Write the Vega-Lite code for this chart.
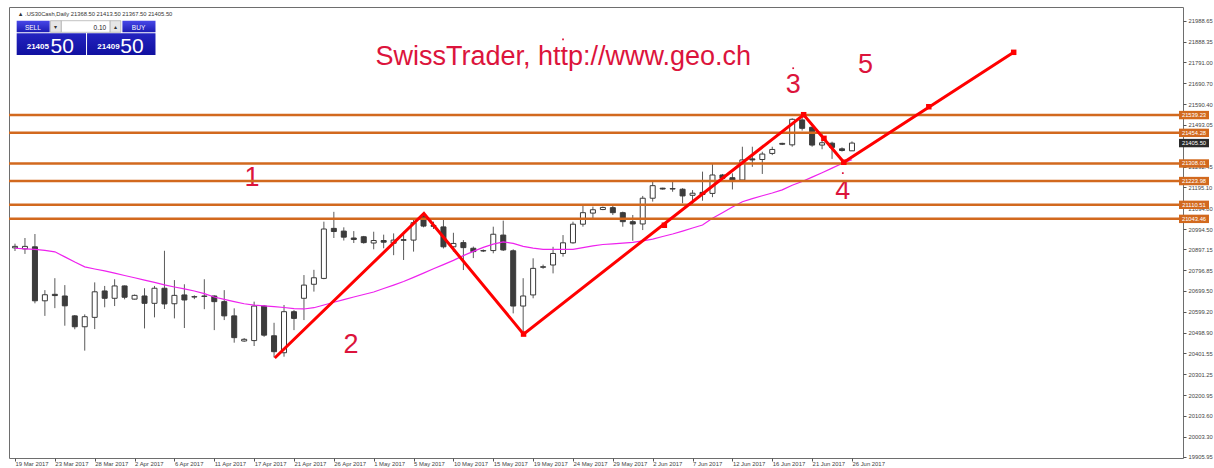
{
  "$schema": "https://vega.github.io/schema/vega-lite/v6.json",
  "width": 1174,
  "height": 451,
  "autosize": {"type": "none"},
  "padding": {"left": 9, "top": 7, "right": 31, "bottom": 10},
  "background": "white",
  "config": {
    "view": {"stroke": "#6e6e6e", "strokeWidth": 1},
    "font": "Liberation Sans",
    "text": {"font": "Liberation Sans"},
    "axis": {"labelOverlap": false, "labelFlush": false, "grid": false, "domain": false}
  },
  "datasets": {
    "candles": [
      {"d":"2017-03-19","i":0,"o":20905,"h":20925,"l":20890,"c":20912,"ma":20903},
      {"d":"2017-03-20","i":1,"o":20900,"h":20952,"l":20876,"c":20912,"ma":20900},
      {"d":"2017-03-21","i":2,"o":20910,"h":20971,"l":20640,"c":20652,"ma":20898},
      {"d":"2017-03-22","i":3,"o":20652,"h":20703,"l":20580,"c":20681,"ma":20893},
      {"d":"2017-03-23","i":4,"o":20683,"h":20760,"l":20617,"c":20677,"ma":20886},
      {"d":"2017-03-24","i":5,"o":20675,"h":20727,"l":20533,"c":20628,"ma":20862},
      {"d":"2017-03-26","i":6,"o":20580,"h":20584,"l":20516,"c":20528,"ma":20837},
      {"d":"2017-03-27","i":7,"o":20528,"h":20587,"l":20414,"c":20576,"ma":20814},
      {"d":"2017-03-28","i":8,"o":20573,"h":20740,"l":20517,"c":20695,"ma":20804},
      {"d":"2017-03-29","i":9,"o":20699,"h":20723,"l":20621,"c":20664,"ma":20795},
      {"d":"2017-03-30","i":10,"o":20664,"h":20755,"l":20627,"c":20723,"ma":20784},
      {"d":"2017-03-31","i":11,"o":20723,"h":20725,"l":20659,"c":20669,"ma":20773},
      {"d":"2017-04-02","i":12,"o":20660,"h":20682,"l":20658,"c":20678,"ma":20762},
      {"d":"2017-04-03","i":13,"o":20675,"h":20712,"l":20520,"c":20640,"ma":20751},
      {"d":"2017-04-04","i":14,"o":20640,"h":20723,"l":20573,"c":20712,"ma":20740},
      {"d":"2017-04-05","i":15,"o":20712,"h":20891,"l":20613,"c":20637,"ma":20728},
      {"d":"2017-04-06","i":16,"o":20638,"h":20751,"l":20568,"c":20678,"ma":20718},
      {"d":"2017-04-07","i":17,"o":20680,"h":20731,"l":20522,"c":20656,"ma":20709},
      {"d":"2017-04-09","i":18,"o":20670,"h":20678,"l":20660,"c":20672,"ma":20699},
      {"d":"2017-04-10","i":19,"o":20675,"h":20755,"l":20612,"c":20673,"ma":20686},
      {"d":"2017-04-11","i":20,"o":20675,"h":20678,"l":20512,"c":20648,"ma":20670},
      {"d":"2017-04-12","i":21,"o":20648,"h":20703,"l":20560,"c":20580,"ma":20659},
      {"d":"2017-04-13","i":22,"o":20580,"h":20616,"l":20452,"c":20476,"ma":20648},
      {"d":"2017-04-16","i":23,"o":20460,"h":20474,"l":20456,"c":20468,"ma":20638},
      {"d":"2017-04-17","i":24,"o":20462,"h":20648,"l":20436,"c":20627,"ma":20631},
      {"d":"2017-04-18","i":25,"o":20627,"h":20632,"l":20480,"c":20488,"ma":20628},
      {"d":"2017-04-19","i":26,"o":20485,"h":20547,"l":20382,"c":20409,"ma":20624},
      {"d":"2017-04-20","i":27,"o":20404,"h":20632,"l":20385,"c":20600,"ma":20620},
      {"d":"2017-04-21","i":28,"o":20600,"h":20608,"l":20512,"c":20568,"ma":20615},
      {"d":"2017-04-23","i":29,"o":20664,"h":20775,"l":20560,"c":20727,"ma":20613},
      {"d":"2017-04-24","i":30,"o":20731,"h":20800,"l":20696,"c":20762,"ma":20619},
      {"d":"2017-04-25","i":31,"o":20759,"h":21030,"l":20755,"c":20995,"ma":20632},
      {"d":"2017-04-26","i":32,"o":20998,"h":21077,"l":20952,"c":20983,"ma":20645},
      {"d":"2017-04-27","i":33,"o":20985,"h":21003,"l":20940,"c":20956,"ma":20658},
      {"d":"2017-04-28","i":34,"o":20952,"h":20985,"l":20928,"c":20945,"ma":20670},
      {"d":"2017-04-30","i":35,"o":20958,"h":20962,"l":20925,"c":20930,"ma":20682},
      {"d":"2017-05-01","i":36,"o":20928,"h":20982,"l":20898,"c":20940,"ma":20694},
      {"d":"2017-05-02","i":37,"o":20940,"h":20968,"l":20903,"c":20932,"ma":20711},
      {"d":"2017-05-03","i":38,"o":20927,"h":20974,"l":20870,"c":20942,"ma":20727},
      {"d":"2017-05-04","i":39,"o":20944,"h":20982,"l":20847,"c":20941,"ma":20744},
      {"d":"2017-05-05","i":40,"o":20942,"h":21046,"l":20887,"c":21025,"ma":20764},
      {"d":"2017-05-07","i":41,"o":21062,"h":21069,"l":21003,"c":21009,"ma":20784},
      {"d":"2017-05-08","i":42,"o":21012,"h":21030,"l":20995,"c":21008,"ma":20805},
      {"d":"2017-05-09","i":43,"o":21005,"h":21046,"l":20902,"c":20910,"ma":20825},
      {"d":"2017-05-10","i":44,"o":20910,"h":20977,"l":20887,"c":20926,"ma":20845},
      {"d":"2017-05-11","i":45,"o":20930,"h":20942,"l":20799,"c":20906,"ma":20868},
      {"d":"2017-05-12","i":46,"o":20903,"h":20911,"l":20856,"c":20887,"ma":20888},
      {"d":"2017-05-14","i":47,"o":20890,"h":20897,"l":20885,"c":20892,"ma":20907},
      {"d":"2017-05-15","i":48,"o":20892,"h":21006,"l":20879,"c":20970,"ma":20923},
      {"d":"2017-05-16","i":49,"o":20966,"h":21035,"l":20890,"c":20895,"ma":20933},
      {"d":"2017-05-17","i":50,"o":20891,"h":20898,"l":20592,"c":20627,"ma":20926},
      {"d":"2017-05-18","i":51,"o":20627,"h":20760,"l":20493,"c":20675,"ma":20912},
      {"d":"2017-05-19","i":52,"o":20680,"h":20855,"l":20664,"c":20807,"ma":20904},
      {"d":"2017-05-21","i":53,"o":20812,"h":20825,"l":20805,"c":20815,"ma":20898},
      {"d":"2017-05-22","i":54,"o":20823,"h":20910,"l":20783,"c":20878,"ma":20898},
      {"d":"2017-05-23","i":55,"o":20878,"h":20966,"l":20863,"c":20929,"ma":20898},
      {"d":"2017-05-24","i":56,"o":20929,"h":21030,"l":20925,"c":21018,"ma":20898},
      {"d":"2017-05-25","i":57,"o":21018,"h":21114,"l":21006,"c":21073,"ma":20906},
      {"d":"2017-05-26","i":58,"o":21071,"h":21102,"l":21038,"c":21087,"ma":20914},
      {"d":"2017-05-28","i":59,"o":21088,"h":21102,"l":21085,"c":21098,"ma":20921},
      {"d":"2017-05-29","i":60,"o":21097,"h":21105,"l":21062,"c":21073,"ma":20924},
      {"d":"2017-05-30","i":61,"o":21073,"h":21078,"l":21006,"c":21030,"ma":20928},
      {"d":"2017-05-31","i":62,"o":21030,"h":21062,"l":20939,"c":21019,"ma":20931},
      {"d":"2017-06-01","i":63,"o":21019,"h":21153,"l":20990,"c":21142,"ma":20938},
      {"d":"2017-06-02","i":64,"o":21142,"h":21229,"l":21126,"c":21202,"ma":20947},
      {"d":"2017-06-04","i":65,"o":21190,"h":21192,"l":21183,"c":21186,"ma":20959},
      {"d":"2017-06-05","i":66,"o":21188,"h":21221,"l":21173,"c":21186,"ma":20971},
      {"d":"2017-06-06","i":67,"o":21185,"h":21190,"l":21118,"c":21153,"ma":20985},
      {"d":"2017-06-07","i":68,"o":21156,"h":21181,"l":21114,"c":21166,"ma":21000},
      {"d":"2017-06-08","i":69,"o":21170,"h":21269,"l":21130,"c":21160,"ma":21014},
      {"d":"2017-06-09","i":70,"o":21165,"h":21305,"l":21147,"c":21253,"ma":21046},
      {"d":"2017-06-11","i":71,"o":21253,"h":21258,"l":21232,"c":21237,"ma":21073},
      {"d":"2017-06-12","i":72,"o":21240,"h":21261,"l":21184,"c":21229,"ma":21100},
      {"d":"2017-06-13","i":73,"o":21229,"h":21388,"l":21221,"c":21325,"ma":21125},
      {"d":"2017-06-14","i":74,"o":21330,"h":21388,"l":21292,"c":21325,"ma":21140},
      {"d":"2017-06-15","i":75,"o":21327,"h":21364,"l":21258,"c":21353,"ma":21154},
      {"d":"2017-06-16","i":76,"o":21356,"h":21388,"l":21348,"c":21375,"ma":21167},
      {"d":"2017-06-18","i":77,"o":21404,"h":21407,"l":21396,"c":21400,"ma":21182},
      {"d":"2017-06-19","i":78,"o":21397,"h":21524,"l":21388,"c":21519,"ma":21204},
      {"d":"2017-06-20","i":79,"o":21516,"h":21541,"l":21465,"c":21476,"ma":21222},
      {"d":"2017-06-21","i":80,"o":21481,"h":21484,"l":21388,"c":21396,"ma":21243},
      {"d":"2017-06-22","i":81,"o":21396,"h":21455,"l":21376,"c":21407,"ma":21264},
      {"d":"2017-06-23","i":82,"o":21405,"h":21412,"l":21330,"c":21385,"ma":21286},
      {"d":"2017-06-25","i":83,"o":21378,"h":21385,"l":21365,"c":21370,"ma":21308},
      {"d":"2017-06-26","i":84,"o":21368.5,"h":21413.5,"l":21367.5,"c":21405.5,"ma":21326}
    ],
    "levels": [
      {"level": 21539.23}, {"level": 21454.28}, {"level": 21308.01},
      {"level": 21223.98}, {"level": 21110.51}, {"level": 21043.46}
    ],
    "zigzag": [
      {"i": 26.07, "p": 20379},
      {"i": 41.04, "p": 21069},
      {"i": 51.04, "p": 20493},
      {"i": 79.15, "p": 21541},
      {"i": 83.18, "p": 21314},
      {"i": 100.23, "p": 21839}
    ],
    "handles": [
      {"i": 51.04, "p": 20493},
      {"i": 65.17, "p": 21013},
      {"i": 79.15, "p": 21541},
      {"i": 81.19, "p": 21428},
      {"i": 83.18, "p": 21314},
      {"i": 91.71, "p": 21579},
      {"i": 100.23, "p": 21839}
    ],
    "notes": [
      {"t": "SwissTrader, http://www.geo.ch", "i": 55.02, "p": 21778},
      {"t": "1", "i": 23.78, "p": 21200},
      {"t": "2", "i": 33.73, "p": 20403},
      {"t": "3", "i": 78.11, "p": 21645},
      {"t": "4", "i": 83.08, "p": 21138},
      {"t": "5", "i": 85.37, "p": 21740}
    ],
    "anchors": [
      {"i": 55.0, "p": 21901},
      {"i": 78.1, "p": 21763},
      {"i": 83.08, "p": 21262}
    ],
    "one": [{}]
  },
  "layer": [
    {
      "data": {"name": "candles"},
      "mark": {"type": "rule", "color": "#5a5a5a", "strokeWidth": 1, "clip": true},
      "encoding": {
        "x": {
          "field": "i", "type": "quantitative", "title": null,
          "scale": {"domain": [-0.1, 116.72], "nice": false, "zero": false},
          "axis": {
            "values": [0,4,8,12,16,20,24,28,32,36,40,44,48,52,56,60,64,68,72,76,80,84],
            "tickCount": 100,
            "labelExpr": "['19 Mar 2017','23 Mar 2017','28 Mar 2017','2 Apr 2017','6 Apr 2017','11 Apr 2017','17 Apr 2017','21 Apr 2017','26 Apr 2017','1 May 2017','5 May 2017','10 May 2017','15 May 2017','19 May 2017','24 May 2017','29 May 2017','2 Jun 2017','7 Jun 2017','12 Jun 2017','16 Jun 2017','21 Jun 2017','26 Jun 2017'][round(datum.value/4)]",
            "labelAlign": "left", "labelBaseline": "top", "labelFontSize": 5.9,
            "labelColor": "#444444", "labelPadding": -1, "labelDx": -1,
            "tickSize": 3, "tickColor": "#555555", "domain": false, "grid": false,
            "labelOverlap": false, "labelFlush": false, "labelBound": false
          }
        },
        "y": {
          "field": "l", "type": "quantitative", "title": null,
          "scale": {"domain": [19901.1, 22055.5], "nice": false, "zero": false},
          "axis": {
            "orient": "right",
            "values": [21988.65,21888.35,21791.00,21690.70,21590.40,21493.05,21292.45,21195.10,21094.80,20994.50,20897.15,20796.85,20699.50,20599.20,20498.90,20401.55,20301.25,20200.95,20103.60,20003.30,19905.95],
            "tickCount": 100,
            "format": ".2f", "labelFontSize": 5.8, "labelColor": "#444444",
            "labelPadding": 2, "tickSize": 3, "tickColor": "#555555",
            "domain": false, "grid": false, "labelOverlap": false, "labelFlush": false, "labelBound": false
          }
        },
        "y2": {"field": "h"}
      }
    },
    {
      "data": {"name": "candles"},
      "mark": {"type": "bar", "width": 5, "stroke": "#3a3a3a", "strokeWidth": 1, "clip": true},
      "encoding": {
        "x": {"field": "i", "type": "quantitative", "title": null},
        "y": {"field": "o", "type": "quantitative", "title": null},
        "y2": {"field": "c"},
        "fill": {"condition": {"test": "datum.c >= datum.o", "value": "#ffffff"}, "value": "#3c3c3c"}
      }
    },
    {
      "data": {"name": "candles"},
      "mark": {"type": "line", "color": "#ee22ee", "strokeWidth": 1.2, "clip": true},
      "encoding": {
        "x": {"field": "i", "type": "quantitative", "title": null},
        "y": {"field": "ma", "type": "quantitative", "title": null}
      }
    },
    {
      "data": {"name": "notes"},
      "mark": {"type": "text", "color": "#dc143c", "fontSize": 27, "align": "center", "baseline": "alphabetic", "font": "Liberation Sans"},
      "encoding": {
        "x": {"field": "i", "type": "quantitative", "title": null},
        "y": {"field": "p", "type": "quantitative", "title": null},
        "text": {"field": "t"}
      }
    },
    {
      "data": {"name": "anchors"},
      "mark": {"type": "point", "shape": "square", "filled": true, "size": 3, "color": "#dc143c", "opacity": 1},
      "encoding": {
        "x": {"field": "i", "type": "quantitative", "title": null},
        "y": {"field": "p", "type": "quantitative", "title": null}
      }
    },
    {
      "data": {"name": "levels"},
      "mark": {"type": "rule", "color": "#d2691e", "strokeWidth": 2.5},
      "encoding": {
        "y": {"field": "level", "type": "quantitative", "title": null}
      }
    },
    {
      "data": {"name": "zigzag"},
      "mark": {"type": "line", "color": "#ff0000", "strokeWidth": 3},
      "encoding": {
        "x": {"field": "i", "type": "quantitative", "title": null},
        "y": {"field": "p", "type": "quantitative", "title": null}
      }
    },
    {
      "data": {"name": "handles"},
      "mark": {"type": "point", "shape": "square", "filled": true, "size": 30, "color": "#ff0000", "opacity": 1},
      "encoding": {
        "x": {"field": "i", "type": "quantitative", "title": null},
        "y": {"field": "p", "type": "quantitative", "title": null}
      }
    },
    {
      "data": {"name": "levels"},
      "mark": {"type": "point", "shape": "M-1,-0.28H1V0.28H-1Z", "filled": true, "size": 900, "color": "#d2691e", "opacity": 1, "xOffset": 16},
      "encoding": {
        "x": {"datum": 116.72, "type": "quantitative"},
        "y": {"field": "level", "type": "quantitative", "title": null}
      }
    },
    {
      "data": {"name": "levels"},
      "mark": {"type": "text", "color": "#ffffff", "fontSize": 5.8, "align": "center", "baseline": "middle", "xOffset": 16},
      "encoding": {
        "x": {"datum": 116.72, "type": "quantitative"},
        "y": {"field": "level", "type": "quantitative", "title": null},
        "text": {"field": "level", "type": "quantitative", "format": ".2f"}
      }
    },
    {
      "data": {"name": "one"},
      "mark": {"type": "point", "shape": "M-1,-0.28H1V0.28H-1Z", "filled": true, "size": 900, "color": "#2a2a2a", "opacity": 1, "xOffset": 16},
      "encoding": {
        "x": {"datum": 116.72, "type": "quantitative"},
        "y": {"datum": 21405.5, "type": "quantitative"}
      }
    },
    {
      "data": {"name": "one"},
      "mark": {"type": "text", "color": "#ffffff", "fontSize": 5.8, "align": "center", "baseline": "middle", "xOffset": 16, "text": "21405.50"},
      "encoding": {
        "x": {"datum": 116.72, "type": "quantitative"},
        "y": {"datum": 21405.5, "type": "quantitative"}
      }
    },
    {
      "data": {"name": "one"},
      "mark": {"type": "text", "color": "#333333", "fontSize": 5.8, "align": "left", "baseline": "alphabetic", "text": "▲ .US30Cash,Daily  21368.50 21413.50 21367.50 21405.50"},
      "encoding": {
        "x": {"datum": 0.27, "type": "quantitative"},
        "y": {"datum": 22012.5, "type": "quantitative"}
      }
    },
    {
      "data": {"name": "one"},
      "mark": {"type": "rect", "fill": {"gradient": "linear", "x1": 0, "y1": 0, "x2": 0, "y2": 1, "stops": [{"offset": 0, "color": "#4848e8"}, {"offset": 1, "color": "#1c1cb4"}]}},
      "encoding": {
        "x": {"datum": 0.17, "type": "quantitative"}, "x2": {"datum": 3.48},
        "y": {"datum": 21990.1, "type": "quantitative"}, "y2": {"datum": 21934.7}
      }
    },
    {
      "data": {"name": "one"},
      "mark": {"type": "rect", "fill": "#e6e6e6", "stroke": "#a8a8a8", "strokeWidth": 0.7},
      "encoding": {
        "x": {"datum": 3.55, "type": "quantitative"}, "x2": {"datum": 4.65},
        "y": {"datum": 21990.1, "type": "quantitative"}, "y2": {"datum": 21934.7}
      }
    },
    {
      "data": {"name": "one"},
      "mark": {"type": "rect", "fill": "#ffffff", "stroke": "#a8a8a8", "strokeWidth": 0.7},
      "encoding": {
        "x": {"datum": 4.65, "type": "quantitative"}, "x2": {"datum": 9.55},
        "y": {"datum": 21990.1, "type": "quantitative"}, "y2": {"datum": 21934.7}
      }
    },
    {
      "data": {"name": "one"},
      "mark": {"type": "rect", "fill": "#e6e6e6", "stroke": "#a8a8a8", "strokeWidth": 0.7},
      "encoding": {
        "x": {"datum": 9.55, "type": "quantitative"}, "x2": {"datum": 10.62},
        "y": {"datum": 21990.1, "type": "quantitative"}, "y2": {"datum": 21934.7}
      }
    },
    {
      "data": {"name": "one"},
      "mark": {"type": "rect", "fill": {"gradient": "linear", "x1": 0, "y1": 0, "x2": 0, "y2": 1, "stops": [{"offset": 0, "color": "#4848e8"}, {"offset": 1, "color": "#1c1cb4"}]}},
      "encoding": {
        "x": {"datum": 10.78, "type": "quantitative"}, "x2": {"datum": 14.1},
        "y": {"datum": 21990.1, "type": "quantitative"}, "y2": {"datum": 21934.7}
      }
    },
    {
      "data": {"name": "one"},
      "mark": {"type": "rect", "fill": {"gradient": "linear", "x1": 0, "y1": 0, "x2": 0, "y2": 1, "stops": [{"offset": 0, "color": "#2424c0"}, {"offset": 1, "color": "#1010a0"}]}},
      "encoding": {
        "x": {"datum": 0.17, "type": "quantitative"}, "x2": {"datum": 7.13},
        "y": {"datum": 21929.9, "type": "quantitative"}, "y2": {"datum": 21826.2}
      }
    },
    {
      "data": {"name": "one"},
      "mark": {"type": "rect", "fill": {"gradient": "linear", "x1": 0, "y1": 0, "x2": 0, "y2": 1, "stops": [{"offset": 0, "color": "#2424c0"}, {"offset": 1, "color": "#1010a0"}]}},
      "encoding": {
        "x": {"datum": 7.23, "type": "quantitative"}, "x2": {"datum": 14.1},
        "y": {"datum": 21929.9, "type": "quantitative"}, "y2": {"datum": 21826.2}
      }
    },
    {
      "data": {"name": "one"},
      "mark": {"type": "text", "color": "#ffffff", "fontSize": 6.5, "align": "center", "baseline": "alphabetic", "text": "SELL"},
      "encoding": {"x": {"datum": 1.79, "type": "quantitative"}, "y": {"datum": 21946, "type": "quantitative"}}
    },
    {
      "data": {"name": "one"},
      "mark": {"type": "text", "color": "#ffffff", "fontSize": 6.5, "align": "center", "baseline": "alphabetic", "text": "BUY"},
      "encoding": {"x": {"datum": 12.4, "type": "quantitative"}, "y": {"datum": 21946, "type": "quantitative"}}
    },
    {
      "data": {"name": "one"},
      "mark": {"type": "text", "color": "#222222", "fontSize": 6.5, "align": "right", "baseline": "alphabetic", "text": "0.10"},
      "encoding": {"x": {"datum": 9.15, "type": "quantitative"}, "y": {"datum": 21946, "type": "quantitative"}}
    },
    {
      "data": {"name": "one"},
      "mark": {"type": "text", "color": "#333333", "fontSize": 6, "align": "center", "baseline": "middle", "text": "▾"},
      "encoding": {"x": {"datum": 4.1, "type": "quantitative"}, "y": {"datum": 21962, "type": "quantitative"}}
    },
    {
      "data": {"name": "one"},
      "mark": {"type": "text", "color": "#333333", "fontSize": 6, "align": "center", "baseline": "middle", "text": "▴"},
      "encoding": {"x": {"datum": 10.08, "type": "quantitative"}, "y": {"datum": 21962, "type": "quantitative"}}
    },
    {
      "data": {"name": "one"},
      "mark": {"type": "text", "color": "#ffffff", "fontSize": 8, "fontWeight": "bold", "align": "center", "baseline": "alphabetic", "text": "21405"},
      "encoding": {"x": {"datum": 2.29, "type": "quantitative"}, "y": {"datum": 21855, "type": "quantitative"}}
    },
    {
      "data": {"name": "one"},
      "mark": {"type": "text", "color": "#ffffff", "fontSize": 21, "align": "center", "baseline": "alphabetic", "text": "50"},
      "encoding": {"x": {"datum": 4.73, "type": "quantitative"}, "y": {"datum": 21836, "type": "quantitative"}}
    },
    {
      "data": {"name": "one"},
      "mark": {"type": "text", "color": "#ffffff", "fontSize": 8, "fontWeight": "bold", "align": "center", "baseline": "alphabetic", "text": "21409"},
      "encoding": {"x": {"datum": 9.38, "type": "quantitative"}, "y": {"datum": 21855, "type": "quantitative"}}
    },
    {
      "data": {"name": "one"},
      "mark": {"type": "text", "color": "#ffffff", "fontSize": 21, "align": "center", "baseline": "alphabetic", "text": "50"},
      "encoding": {"x": {"datum": 11.74, "type": "quantitative"}, "y": {"datum": 21836, "type": "quantitative"}}
    }
  ]
}
